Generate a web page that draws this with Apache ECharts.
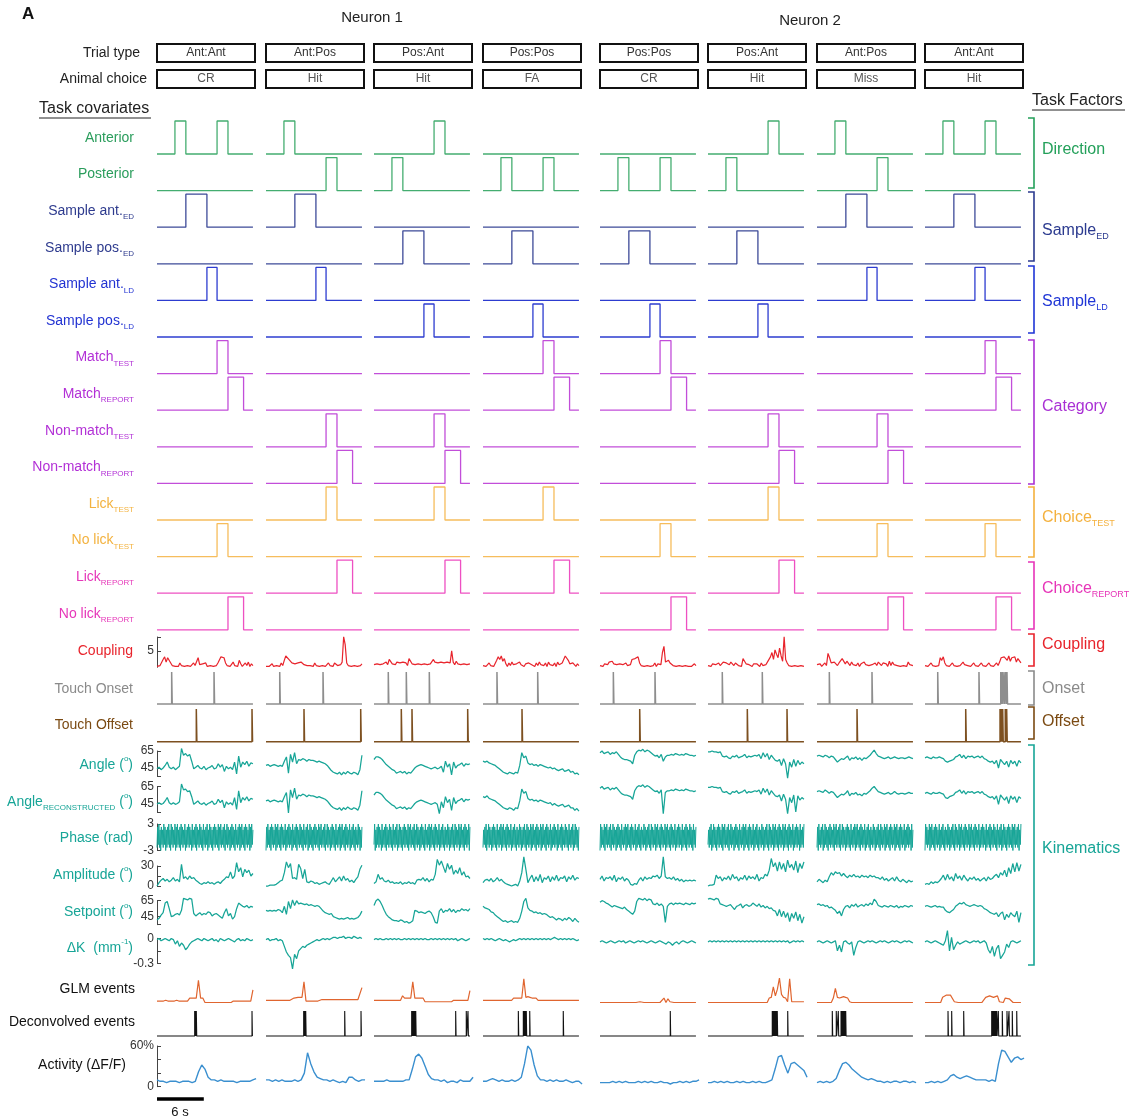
<!DOCTYPE html>
<html><head><meta charset="utf-8">
<script src="https://cdn.jsdelivr.net/npm/echarts@6/dist/echarts.min.js"></script>
<style>html,body{margin:0;padding:0;background:#fff}#c{width:1135px;height:1120px}</style>
</head><body><div id="c"></div>
<script>
// ================= DATA =================
const neuronNames = ['Neuron 1', 'Neuron 2'];
const trialTypes = ['Ant:Ant', 'Ant:Pos', 'Pos:Ant', 'Pos:Pos', 'Pos:Pos', 'Pos:Ant', 'Ant:Pos', 'Ant:Ant'];
const animalChoices = ['CR', 'Hit', 'Hit', 'FA', 'CR', 'Hit', 'Miss', 'Hit'];
const trialDur = 12.3;      // s
const activityDur = 12.7;   // s
const scaleBarSec = 6;

// task covariates: [on, off] intervals (s) per trial
const anterior      = [[[2.3,3.7],[7.7,9.1]], [[2.3,3.7]], [[7.7,9.1]], [], [], [[7.7,9.1]], [[2.3,3.7]], [[2.3,3.7],[7.7,9.1]]];
const posterior     = [[], [[7.7,9.1]], [[2.3,3.7]], [[2.3,3.7],[7.7,9.1]], [[2.3,3.7],[7.7,9.1]], [[2.3,3.7]], [[7.7,9.1]], []];
const sampleAntED   = [[[3.7,6.4]], [[3.7,6.4]], [], [], [], [], [[3.7,6.4]], [[3.7,6.4]]];
const samplePosED   = [[], [], [[3.7,6.4]], [[3.7,6.4]], [[3.7,6.4]], [[3.7,6.4]], [], []];
const sampleAntLD   = [[[6.4,7.7]], [[6.4,7.7]], [], [], [], [], [[6.4,7.7]], [[6.4,7.7]]];
const samplePosLD   = [[], [], [[6.4,7.7]], [[6.4,7.7]], [[6.4,7.7]], [[6.4,7.7]], [], []];
const matchTest     = [[[7.7,9.1]], [], [], [[7.7,9.1]], [[7.7,9.1]], [], [], [[7.7,9.1]]];
const matchReport   = [[[9.1,11.1]], [], [], [[9.1,11.1]], [[9.1,11.1]], [], [], [[9.1,11.1]]];
const nonMatchTest  = [[], [[7.7,9.1]], [[7.7,9.1]], [], [], [[7.7,9.1]], [[7.7,9.1]], []];
const nonMatchReport= [[], [[9.1,11.1]], [[9.1,11.1]], [], [], [[9.1,11.1]], [[9.1,11.1]], []];
const lickTest      = [[], [[7.7,9.1]], [[7.7,9.1]], [[7.7,9.1]], [], [[7.7,9.1]], [], []];
const noLickTest    = [[[7.7,9.1]], [], [], [], [[7.7,9.1]], [], [[7.7,9.1]], [[7.7,9.1]]];
const lickReport    = [[], [[9.1,11.1]], [[9.1,11.1]], [[9.1,11.1]], [], [[9.1,11.1]], [], []];
const noLickReport  = [[[9.1,11.1]], [], [], [], [[9.1,11.1]], [], [[9.1,11.1]], [[9.1,11.1]]];

// event times (s) per trial
const touchOnset  = [[1.88,7.31], [1.76,7.31], [1.83,4.14,7.09], [1.79,7.01], [1.71,7.05], [1.83,6.96], [1.58,7.05], [1.63,6.92,9.71,9.91,10.13,10.35,10.51]];
const touchOffset = [[5.04,12.18], [4.87,12.14], [3.5,4.87,12.01], [5.0], [5.09], [5.04,10.13], [5.13], [5.22,9.62,9.78,9.96,10.29,10.47]];
const deconvEvents = [
  [4.83,4.9,4.96,5.04,12.18],
  [4.83,4.9,4.97,5.04,5.09,10.09,12.18],
  [4.83,4.9,4.97,5.04,5.1,5.17,5.23,5.3,5.35,10.47,11.83,12.05],
  [4.53,5.17,5.29,5.42,5.55,5.99,10.29],
  [9.01],
  [8.24,8.31,8.38,8.45,8.52,8.59,8.66,8.73,8.8,8.88,10.22],
  [1.96,2.47,2.73,3.08,3.15,3.22,3.3,3.37,3.44,3.51,3.58,3.68],
  [2.95,3.42,4.96,8.55,8.62,8.7,8.78,8.86,8.94,9.0,9.08,9.19,9.4,9.91,10.51,10.77,11.19,11.76]
];

// sampled traces, one base-36 character per sample (value = lo + code*step, see decoders below)
const couplingTrace = [ // lo 0, step 0.27
  '13249c6ba524131524132413524b31425132413254cdb5241362418413526142',
  '1312413241528dc9b5746536435232415241324135241532436zq52413241324',
  '35463542639a45364536452a846354635463546964536453645j637463546354',
  '2413524138c9d7a415263542635142563415263425163425163459dc84253142',
  '231423657423142315243' + '9ba8c524132413251423ho658562413241324131242',
  '23142315246456364253241a74235142431524368ch9kfbmd7z9524132413241',
  '3241352gb5364253a847526342514263524315264253417263524132416352',
  '2413524132b8c5241352413246352413524135241352413526b9ca8d7b9c6a85'
];
const angleTrace = [ // lo 33 deg, step 1 deg
  'bdacfjdbdacezrtqskbdfcbeacdfbchdg8ebdaj5qdjgkeih',
  'fgefgfefekp6sjuhmlnmkmllkjkjihfc97657475865764ar',
  'mppomjgeca9678685769cefgfedcbcdbce7kdh4jcfgiehgh',
  'kjkihgfdb976576576fuoqighfgegfedcdbca9ab89a78564',
  'uwtuvsutvspnmmlkhrvxwyvxwusqroskprrsrtsrsrtsrrqr',
  'vvwvvuvqpqonqpropqsoqpqrqsnuptmrolkmfnh0jdmelgjh',
  'qrqprqoqpmjlnmoqlonpmolonpruxtqponopnoponoonopon',
  'oponpooponkjklmpqsornqpqopqoqnmkjkhlcmjgkdlhkeli'
];
const angleReconTrace = [ // lo 33 deg, step 1 deg
  'bdbcfjdbdbcezstqrkbdfcbdacdfbchdg7ebdaj5rdjgkfih',
  'fgefgfefekp1sjuhmlnmkmllkjkjihfc97657475865764ar',
  'mppomjgeca9678685769cefgfedcbcdb0e7kdh4jcfgiehgh',
  'kjlihgfdb976576476ftoqighfgegfedcdaca9ab89a77463',
  'uwtuvsutvspnmmlkhrvxwyvxwusqros0prrsrtsrsrtsrrqr',
  'vvwvvuvqpqonqpropqsoqpqrqsnuptmrolkmfnh0jdm2lgjh',
  'qrqpsqoqpmjlnmorlonpmnlonpruwtqponopnoqonoonopoo',
  'oponpooponjiklmpqsornqpqopqoqnmkjkhlbmjgkclhkdki'
];
const phaseTrace = [ // lo -3 rad, step 2/3 rad
  '182917082719280718291709281729081927180928172907182918270917281908271928170927182907192817082918271908291728190729182708192817092718290819271809281729081927',
  '081927180928172908192718092817290718291827091728190827192817092718290719281708291827190829172819072918270819281709271829081927180928172907182917082719280718',
  '290718291827091728190827192817092718290719281708291827190829172819072918270819281709271829081927180928172907182917082719280718291709281729081927180928172908',
  '172819072918270819281709271829081927180928172907182917082719280718291709281729081927180928172908192718092817290718291827091728190827192817092718290719281708',
  '091827190829172819072918270819281709271829081927180928172907182917082719280718291709281729081927180928172908192718092817290718291827091728190827192817092718',
  '271829071928170829182719082917281907291827081928170927182908192718092817290718291708271928071829170928172908192718092817290819271809281729071829182709172819',
  '180927182907192817082918271908291728190729182708192817092718290819271809281729071829170827192807182917092817290819271809281729081927180928172907182918270917',
  '092817290819271809281729071829170827192807182917092817290819271809281729081927180928172907182918270917281908271928170927182907192817082918271908291728190729'
];
const amplitudeTrace = [ // lo 0 deg, step 1.25 deg
  '04796857a685q9b8c9a753243534245368bah9cshmbkgjcf',
  '001112467gtmr9a8ql9k5465342345326a58b6c795748bkp',
  '35e8a6574534352435342787a69587ewpungrkpejfmdhbc9',
  '4786957a68532101206gzk49d5b6e4a8c5b7d6a9c5b8d7a9',
  '8c6a9b7d5a8b69721327a6b8a9cbd9czb9a8b79685767676',
  '0112d9b6a8c7e9b6a8d7c9b8e6a9ecjxnsitkrhvmqjugrlt',
  '586475bgdhfgcfcadbebcadbcadbcaa8b7968a6b75864756',
  '232535469d7e8b6f9c7d96a8b7968a6b89ceagdjbmfrhsiq'
];
const setpointTrace = [ // lo 33 deg, step 1 deg
  '8aehtvmcdfgekzyxzygdfhegfihdfgecahmdg9cmtrpoqnpo',
  'kjkjkjlkhpfvmxqwstsrsqrqpqpmjhgfgcba9a9ab9a9abej',
  'qwyvqkfca87768756457kjhihgijhc54jmhkjmilhkjmkljm',
  'pnmliheca867567565ajvznkjhighfgfdbca8a97a8b96a75',
  'uwvtsqoqponmoljhfjvzyxzwyxsrtqsp5pstrtstsrtsrtst',
  'yzyxzysrqpqrolpqsnqrpqtrpsoqnpmnkjdlcjbh6gai7f4c',
  'rsqrpqnomkgjdlpqnrpsoqrpsqtryvqpoqpoqpoqnpoqpoqp',
  'pqpopqopookihjlprtsurqpqrqpqpmljhgfhcgi8fbhecj5h'
];
const deltaKTrace = [ // lo -0.38 mm^-1, step 0.0135
  'rsqrsrqsrnqlomiknpqrsrqsrqrsqrpsrqrsrqprsqrqsrqr',
  'rsqrrsqrqlgdb1eahjlkmnopqrqrsrsrsttsttusttsutsts',
  'rsrsrrsrsrsrsrrsrsrsrsrsrsrrsrsrsrsrsrsrsqrsrqrs',
  'srsrsrqrsrqrqpqrqrsrsrsrsrsrsrsrsrstsrsrsrsrsrqr',
  'pqpopqpopqpqopqpopqpqpopqpopqponpomopnpqpopqpo',
  'pqpqpqpqpqpqpqpqpqpqpqpqpqpqpqpqpqpqpqpqopqpqpqp',
  'pqpopqpopqhmgpqonpdkpqpopqpqpopqpqpopqpqpopqpqpo',
  'pqpopqponmqzhtimpnopqpopqpqopqoiflcjmadgnkpqpopq'
];
const glmTrace = [ // lo 0, step 1/35 (a.u.)
  '4444544445444448888w882222222222222444444444j',
  '5555555555555589999u4444444666666666666666666666m',
  '55555555555555b8888u888883333333333333355555555i',
  '55555555555555588888y9a9888555555555555555555555',
  '2222222222222222222232222222222282732222322222222',
  '22222222222222222222222222222289nbkzd983y3333333',
  '222222228l989a9832222222222222222222222222222222',
  '2222222229acbca33222222222222229aba9ab322897922222'
];
const activityTrace = [ // lo 0 %, step 2 %
  '5443444344434bgd7554544443444456',
  '554545444545aphb7655454343775455',
  '444454444455dmolf965545344354447',
  '4456545445457hurg855454544543442',
  '33334343433343434334332334343445',
  '334343433434334343345dmngahigec7',
  '3434346chigdb9765654434344344343',
  '33434345897678765555454hrqmilmkl'
];

// axis ticks / labels
const couplingTicks = [5, 9.4], couplingLabels = [5];
const angleTicks = [35, 45, 65], angleLabels = [45, 65];
const phaseTicks = [-3, 3], phaseLabels = [-3, 3];
const ampTicks = [0, 15, 30], ampLabels = [0, 30];
const dkTicks = [-0.3, -0.15, 0], dkLabels = [-0.3, 0];
const actTicks = [0, 20, 40, 60], actLabels = [0, 60];

// ================= LAYOUT / BUILD =================
const FONT = '"Liberation Sans", Arial, Helvetica, sans-serif';
const GL = 157, GR = 1023, PXS = 7.8;
const XMAX = (GR - GL) / PXS;
const trialPx = [157, 266, 374, 483, 600, 708, 817, 925];
const trialOff = trialPx.map(p => (p - GL) / PXS);
const CODE = '0123456789abcdefghijklmnopqrstuvwxyz';
const decode = (s, lo, step) => Array.from(s).map(c => lo + CODE.indexOf(c) * step);

const grids = [], xAxes = [], yAxes = [], series = [];
function addRow(top, bottom, yopt) {
  const i = grids.length;
  grids.push({left: GL, width: GR - GL, top: top, height: bottom - top});
  xAxes.push({type: 'value', gridIndex: i, min: 0, max: XMAX, show: false});
  yAxes.push(Object.assign({type: 'value', gridIndex: i, show: false, splitLine: {show: false}}, yopt));
  return i;
}
function addLine(i, data, color, width) {
  series.push({type: 'line', xAxisIndex: i, yAxisIndex: i, data: data, symbol: 'none', showSymbol: false,
    lineStyle: {color: color, width: width}, clip: false, silent: true, animation: false});
}
function yAx(min, max, ticks, labels, fmt) {
  return {show: true, min: min, max: max,
    axisLine: {show: true, onZero: false, lineStyle: {color: '#444', width: 1}},
    axisTick: {show: true, inside: true, length: 4, customValues: ticks, lineStyle: {color: '#444', width: 1}},
    axisLabel: {show: true, customValues: labels, fontSize: 12, color: '#333', fontFamily: FONT, margin: 3,
      formatter: fmt || (v => String(v))},
    splitLine: {show: false}};
}
function stepData(pulses, off) {
  const d = [[off, 0]];
  pulses.forEach(p => d.push([off + p[0], 0], [off + p[0], 1], [off + p[1], 1], [off + p[1], 0]));
  d.push([off + trialDur, 0]);
  return d;
}
function spikeData(ev, off, w) {
  const d = [[off, 0]];
  ev.forEach(t => d.push([off + t, 0], [off + t, 1], [off + t + w, 1], [off + t + w, 0]));
  d.push([off + trialDur, 0]);
  return d;
}
function traceData(vals, off, dur) {
  const n = vals.length;
  return vals.map((v, k) => [off + k * dur / (n - 1), v]);
}

// step rows
const stepRows = [
  ['Anterior', anterior, '#2a9d5c', '#44ad70'],
  ['Posterior', posterior, '#2a9d5c', '#44ad70'],
  ['Sample ant.{s|ED}', sampleAntED, '#2e3b8e', '#3d4a98'],
  ['Sample pos.{s|ED}', samplePosED, '#2e3b8e', '#3d4a98'],
  ['Sample ant.{s|LD}', sampleAntLD, '#2233d2', '#2d3cd0'],
  ['Sample pos.{s|LD}', samplePosLD, '#2233d2', '#2d3cd0'],
  ['Match{s|TEST}', matchTest, '#b230d6', '#c24ed9'],
  ['Match{s|REPORT}', matchReport, '#b230d6', '#c24ed9'],
  ['Non-match{s|TEST}', nonMatchTest, '#b230d6', '#c24ed9'],
  ['Non-match{s|REPORT}', nonMatchReport, '#b230d6', '#c24ed9'],
  ['Lick{s|TEST}', lickTest, '#f3b23f', '#f6bd5c'],
  ['No lick{s|TEST}', noLickTest, '#f3b23f', '#f6bd5c'],
  ['Lick{s|REPORT}', lickReport, '#e637b9', '#ee50c2'],
  ['No lick{s|REPORT}', noLickReport, '#e637b9', '#ee50c2']
];
const B0 = 154, GAP = 36.6, H = 33;
const leftLabels = [];
stepRows.forEach((r, k) => {
  const base = B0 + GAP * k;
  const gi = addRow(base - H, base, {min: 0, max: 1});
  r[1].forEach((p, t) => addLine(gi, stepData(p, trialOff[t]), r[3], 1.3));
  leftLabels.push([r[0], base - 16, r[2], 134]);
});

const TEAL = '#17a597';
// coupling
let gi = addRow(637, 667.3, yAx(0, 9.4, couplingTicks, couplingLabels));
couplingTrace.forEach((s, t) => addLine(gi, traceData(decode(s, 0, 0.27), trialOff[t], trialDur), '#e8242c', 1.2));
leftLabels.push(['Coupling', 651, '#e8242c', 133]);
// touch onset / offset
gi = addRow(672, 704, {min: 0, max: 1});
touchOnset.forEach((e, t) => addLine(gi, spikeData(e, trialOff[t], 0.07), '#8e8e8e', 1.5));
leftLabels.push(['Touch Onset', 689, '#8a8a8a', 133]);
gi = addRow(709, 741.7, {min: 0, max: 1});
touchOffset.forEach((e, t) => addLine(gi, spikeData(e, trialOff[t], 0.07), '#7d5020', 1.5));
leftLabels.push(['Touch Offset', 725, '#7b4a12', 133]);
// angle
gi = addRow(751, 776.5, yAx(35, 65, angleTicks, angleLabels));
angleTrace.forEach((s, t) => addLine(gi, traceData(decode(s, 33, 1), trialOff[t], trialDur), TEAL, 1.25));
leftLabels.push(['Angle ({p|o})', 765, TEAL, 133]);
gi = addRow(786.5, 812, yAx(35, 65, angleTicks, angleLabels));
angleReconTrace.forEach((s, t) => addLine(gi, traceData(decode(s, 33, 1), trialOff[t], trialDur), TEAL, 1.25));
leftLabels.push(['Angle{s|RECONSTRUCTED} ({p|o})', 802, TEAL, 133]);
// phase
gi = addRow(824, 850.5, yAx(-3, 3, phaseTicks, phaseLabels));
phaseTrace.forEach((s, t) => addLine(gi, traceData(decode(s, -3, 2 / 3), trialOff[t], trialDur), TEAL, 1.0));
leftLabels.push(['Phase (rad)', 838, TEAL, 133]);
// amplitude
gi = addRow(866, 886, yAx(0, 30, ampTicks, ampLabels));
amplitudeTrace.forEach((s, t) => addLine(gi, traceData(decode(s, 0, 1.25), trialOff[t], trialDur), TEAL, 1.25));
leftLabels.push(['Amplitude ({p|o})', 875, TEAL, 133]);
// setpoint
gi = addRow(900.7, 924.7, yAx(35, 65, angleTicks, angleLabels));
setpointTrace.forEach((s, t) => addLine(gi, traceData(decode(s, 33, 1), trialOff[t], trialDur), TEAL, 1.25));
leftLabels.push(['Setpoint ({p|o})', 912, TEAL, 133]);
// delta K
gi = addRow(938.3, 963.3, yAx(-0.3, 0, dkTicks, dkLabels));
deltaKTrace.forEach((s, t) => addLine(gi, traceData(decode(s, -0.38, 0.0135), trialOff[t], trialDur), TEAL, 1.25));
leftLabels.push(['\u0394K  (mm{p|-1})', 948, TEAL, 133]);
// GLM events
gi = addRow(978, 1004, {min: 0, max: 1});
glmTrace.forEach((s, t) => addLine(gi, traceData(decode(s, 0, 1 / 35), trialOff[t], trialDur), '#e0652f', 1.2));
leftLabels.push(['GLM events', 989, '#111', 135]);
// deconvolved events
gi = addRow(1011, 1036, {min: 0, max: 1});
deconvEvents.forEach((e, t) => addLine(gi, spikeData(e, trialOff[t], 0.05), '#111', 1.1));
leftLabels.push(['Deconvolved events', 1022, '#111', 135]);
// activity
gi = addRow(1046, 1086.7, yAx(0, 60, actTicks, actLabels, v => v === 60 ? '60%' : String(v)));
activityTrace.forEach((s, t) => addLine(gi, traceData(decode(s, 0, 2), trialOff[t], activityDur), '#3a8fcf', 1.4));
addLine(gi, [[0, -18], [scaleBarSec, -18]], '#000', 3.5);
leftLabels.push(['Activity (\u0394F/F)', 1065, '#111', 126]);

// ---------- graphic (text, boxes, brackets) ----------
const G = [];
function txt(text, x, y, size, color, align, extra) {
  const st = Object.assign({text: text, x: x, y: y, font: size + 'px ' + FONT, fill: color,
    align: align, verticalAlign: 'middle', lineHeight: 20,
    rich: {
      s: {font: Math.round(size * 0.55) + 'px ' + FONT, fill: color, verticalAlign: 'bottom', lineHeight: 8},
      p: {font: Math.round(size * 0.6) + 'px ' + FONT, fill: color, verticalAlign: 'top', lineHeight: 8}
    }}, extra || {});
  G.push({type: 'text', silent: true, style: st});
}
txt('A', 22, 14, 17, '#111', 'left', {font: 'bold 17px ' + FONT});
txt(neuronNames[0], 372, 18, 15, '#222', 'center');
txt(neuronNames[1], 810, 21, 15, '#222', 'center');
txt('Trial type', 140, 53, 14, '#222', 'right');
txt('Animal choice', 147, 79, 14, '#222', 'right');
trialPx.forEach((p, t) => {
  G.push({type: 'rect', silent: true, shape: {x: p, y: 44, width: 98, height: 18}, style: {fill: 'none', stroke: '#111', lineWidth: 2}});
  G.push({type: 'rect', silent: true, shape: {x: p, y: 70, width: 98, height: 18}, style: {fill: 'none', stroke: '#111', lineWidth: 2}});
  txt(trialTypes[t], p + 49, 53, 12, '#333', 'center');
  txt(animalChoices[t], p + 49, 79, 12, '#555', 'center');
});
txt('Task covariates', 39, 109, 16, '#222', 'left');
G.push({type: 'line', silent: true, shape: {x1: 39, y1: 118, x2: 151, y2: 118}, style: {stroke: '#222', lineWidth: 1}});
txt('Task Factors', 1032, 101, 16, '#222', 'left');
G.push({type: 'line', silent: true, shape: {x1: 1032, y1: 110, x2: 1125, y2: 110}, style: {stroke: '#222', lineWidth: 1}});
leftLabels.forEach(l => txt(l[0], l[3], l[1], 14, l[2], 'right'));

const rightGroups = [
  ['Direction', 118, 188, 150, '#23a05a'],
  ['Sample{s|ED}', 192, 261, 231, '#2b3a8f'],
  ['Sample{s|LD}', 266, 333, 302, '#1f35d6'],
  ['Category', 340, 484, 407, '#a930d4'],
  ['Choice{s|TEST}', 487, 557, 518, '#f4b13e'],
  ['Choice{s|REPORT}', 562, 629, 589, '#e634b8'],
  ['Coupling', 634, 666, 645, '#e8242c'],
  ['Onset', 671, 705, 689, '#8a8a8a'],
  ['Offset', 707, 739, 722, '#7b4a12'],
  ['Kinematics', 745, 965, 849, TEAL]
];
rightGroups.forEach(g => {
  G.push({type: 'polyline', silent: true, shape: {points: [[1028, g[1]], [1034, g[1]], [1034, g[2]], [1028, g[2]]]},
    style: {stroke: g[4], lineWidth: 1.6, fill: null}});
  txt(g[0], 1042, g[3], 16, g[4], 'left');
});
txt('6 s', 180, 1112, 13, '#111', 'center');

const chart = echarts.init(document.getElementById('c'), null, {renderer: 'canvas'});
chart.setOption({
  backgroundColor: '#fff',
  animation: false,
  grid: grids, xAxis: xAxes, yAxis: yAxes, series: series,
  graphic: {elements: G}
});
</script>
</body></html>
